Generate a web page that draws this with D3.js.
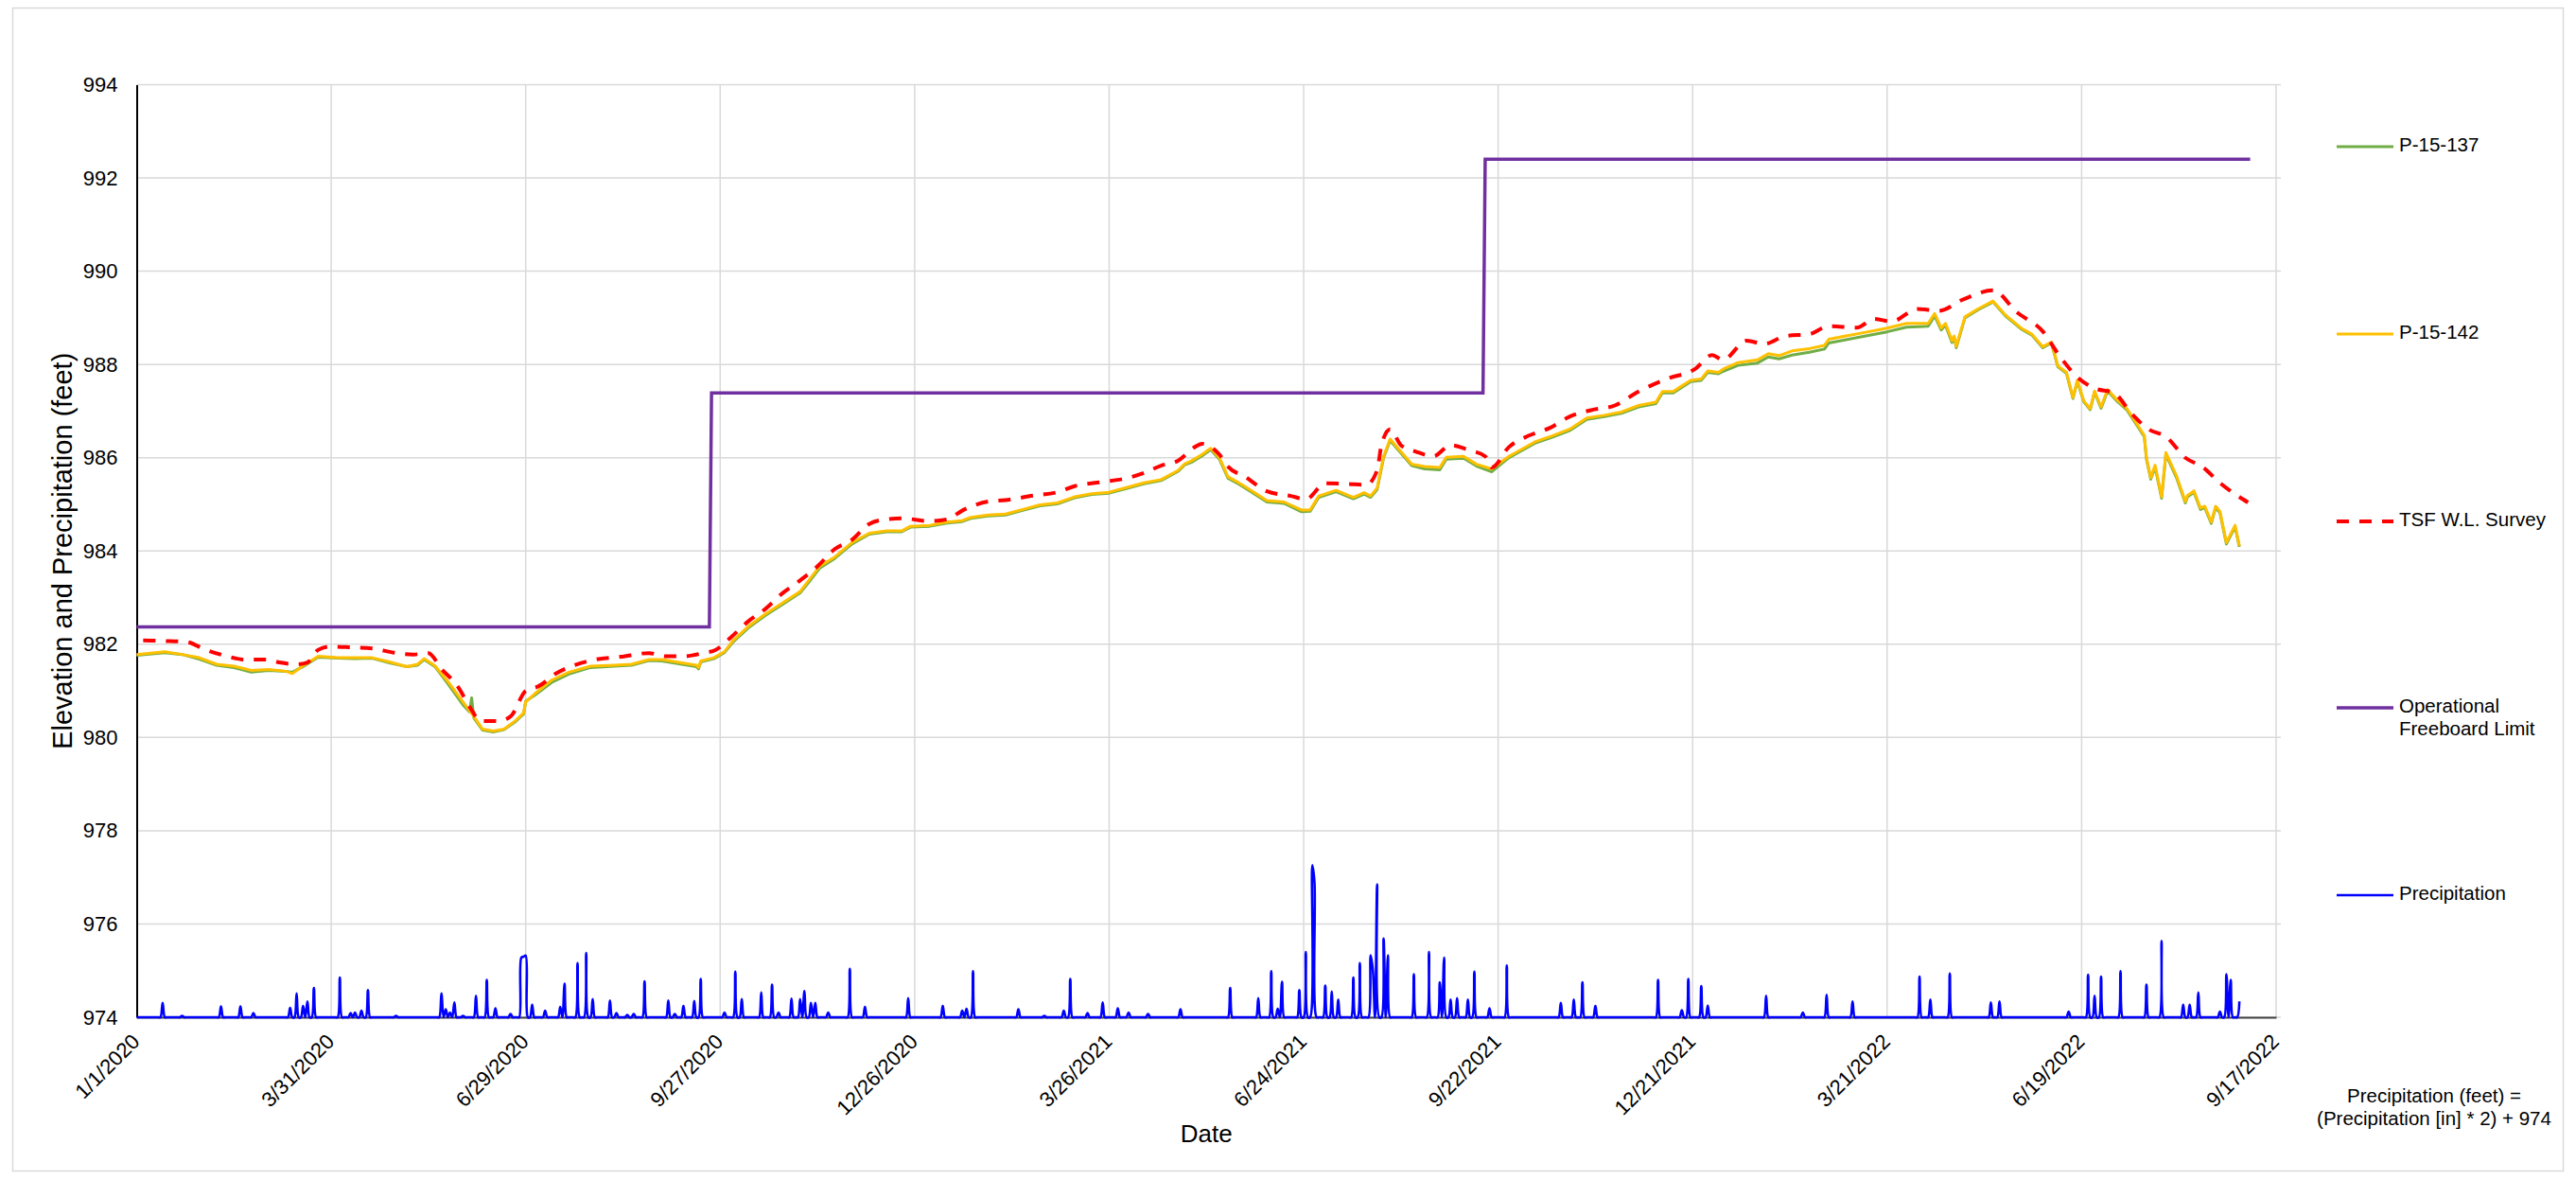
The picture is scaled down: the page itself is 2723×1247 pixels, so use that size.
<!DOCTYPE html>
<html>
<head>
<meta charset="utf-8">
<script src="https://cdn.jsdelivr.net/npm/d3@7"></script>
<style>
html,body{margin:0;padding:0;background:#fff;}
svg{display:block;font-family:"Liberation Sans",Arial,sans-serif;}
</style>
</head>
<body>
<svg id="chart" width="2723" height="1247"></svg>
<script>
// ---------------- DATA (days are offsets from 1/1/2020) ----------------
const tickLabels = ["1/1/2020","3/31/2020","6/29/2020","9/27/2020","12/26/2020","3/26/2021","6/24/2021","9/22/2021","12/21/2021","3/21/2022","6/19/2022","9/17/2022"];
const yTicks = [974,976,978,980,982,984,986,988,990,992,994];

const p142Day = [0,13,21,29,37,45,53,61,69,72,77,84,93,101,109,117,125,130,133,138,144,151,156,160,165,170,175,179,180,184,192,200,210,221,229,237,
243,251,259,260,261,267,272,276,283,291,299,307,311,316,323,331,339,347,354,358,367,375,382,386,394,402,410,418,426,434,442,450,458,466,474,482,485,
488,493,496,497,501,505,509,515,523,531,539,543,547,555,563,568,571,574,577,580,585,590,596,603,606,614,620,627,635,647,655,663,671,679,687,695,703,706,711,719,724,727,732,
734,741,750,755,760,766,774,781,783,791,799,810,819,829,832,835,837,840,841,842,846,852,859,865,872,877,882,886,889,893,896,898,901,904,906,909,912,916,921,929,930,932,934,937,939,944,948,949,952,955,957,960,962,964,967,971,973];
const p142Val = [981.78,981.84,981.78,981.71,981.57,981.53,981.44,981.46,981.42,981.37,981.54,981.74,981.71,981.71,981.71,981.62,981.52,981.57,981.69,981.54,981.2,980.76,980.45,980.18,980.14,980.18,980.35,980.52,980.76,980.93,981.23,981.40,981.53,981.55,981.57,981.67,
981.67,981.61,981.55,981.5,981.64,981.71,981.84,982.08,982.38,982.65,982.89,983.13,983.37,983.67,983.87,984.18,984.38,984.43,984.43,984.53,984.55,984.62,984.65,984.72,984.77,984.79,984.89,984.99,985.03,985.16,985.23,985.26,985.36,985.46,985.53,985.73,985.87,
985.93,986.07,986.17,986.20,986.0,985.59,985.49,985.32,985.08,985.05,984.88,984.88,985.18,985.30,985.15,985.25,985.18,985.35,986.03,986.40,986.13,985.86,985.81,985.79,986.01,986.03,985.86,985.76,986.03,986.34,986.47,986.61,986.85,986.91,986.98,987.12,987.19,987.42,987.42,987.66,987.69,987.86,987.83,
987.90,988.04,988.10,988.23,988.19,988.29,988.34,988.41,988.54,988.61,988.68,988.78,988.88,988.88,989.09,988.78,988.88,988.51,988.61,988.39,989.02,989.19,989.36,989.05,988.78,988.65,988.38,988.48,987.97,987.83,987.29,987.66,987.22,987.05,987.43,987.09,987.46,987.26,987.05,986.48,986.0,985.57,985.84,985.16,986.11,985.60,985.06,985.19,985.29,984.92,984.96,984.62,984.96,984.85,984.18,984.55,984.11];

const p137Day = [0,13,21,29,37,45,53,61,69,72,77,84,93,101,109,117,125,130,133,138,144,151,154,155,156,160,165,170,175,179,180,184,192,200,210,221,229,237,
243,251,259,260,261,267,272,276,283,291,299,307,311,316,323,331,339,347,354,358,367,375,382,386,394,402,410,418,426,434,442,450,458,466,474,482,485,
488,493,496,497,501,505,509,515,523,531,539,543,547,555,563,568,571,574,577,580,585,590,596,603,606,614,620,627,635,647,655,663,671,679,687,695,703,706,711,719,724,727,732,
734,741,750,755,760,766,774,781,783,791,799,810,819,829,832,835,837,840,841,842,846,852,859,865,872,877,882,886,889,893,896,898,901,904,906,909,912,916,921,929,930,932,934,937,939,944,948,949,952,955,957,960,962,964,967,971,973];
const p137Val = [981.76,981.82,981.78,981.68,981.55,981.50,981.40,981.44,981.42,981.40,981.52,981.72,981.70,981.69,981.70,981.60,981.52,981.55,981.67,981.52,981.15,980.70,980.55,980.85,980.42,980.16,980.12,980.17,980.33,980.50,980.78,980.90,981.18,981.36,981.50,981.53,981.55,981.65,
981.64,981.58,981.52,981.47,981.62,981.69,981.82,982.05,982.35,982.62,982.86,983.10,983.33,983.63,983.84,984.15,984.36,984.41,984.41,984.51,984.53,984.60,984.63,984.70,984.75,984.77,984.87,984.97,985.01,985.14,985.21,985.24,985.34,985.44,985.51,985.71,985.85,
985.90,986.04,986.14,986.17,985.97,985.56,985.46,985.29,985.05,985.02,984.84,984.85,985.15,985.27,985.12,985.22,985.15,985.32,986.00,986.37,986.10,985.83,985.76,985.74,985.97,985.99,985.82,985.70,986.00,986.31,986.44,986.58,986.82,986.88,986.95,987.09,987.16,987.39,987.39,987.63,987.66,987.83,987.80,
987.85,987.98,988.03,988.16,988.12,988.20,988.26,988.33,988.46,988.53,988.60,988.70,988.80,988.82,989.04,988.74,988.84,988.47,988.58,988.36,989.00,989.17,989.34,989.03,988.76,988.63,988.36,988.46,987.95,987.81,987.27,987.64,987.20,987.03,987.41,987.06,987.43,987.23,987.02,986.45,985.97,985.54,985.80,985.13,986.07,985.56,985.03,985.16,985.26,984.89,984.93,984.59,984.93,984.82,984.15,984.52,984.09];

const tsfDay = [3,13,23,32,42,50,60,66,74,79,84,90,100,109,119,128,135,141,148,155,159,167,173,180,186,194,202,211,224,237,245,
253,262,268,275,283,291,299,307,315,323,331,339,347,354,367,375,383,394,402,415,426,434,447,458,466,474,482,490,
493,497,501,505,513,523,534,541,550,560,569,574,576,580,585,592,600,608,616,624,627,635,644,654,663,673,684,695,708,721,729,734,
745,753,763,774,783,796,804,812,824,834,845,859,870,882,890,898,906,915,923,931,939,948,956,964,977];
const tsfVal = [982.08,982.07,982.05,981.88,981.74,981.67,981.67,981.61,981.57,981.61,981.88,981.95,981.93,981.91,981.82,981.78,981.81,981.47,981.13,980.59,980.35,980.35,980.45,981.0,981.1,981.37,981.54,981.66,981.73,981.81,981.74,
981.74,981.81,981.88,982.15,982.49,982.76,983.1,983.37,983.67,984.04,984.24,984.58,984.68,984.70,984.64,984.68,984.89,985.06,985.09,985.19,985.26,985.39,985.48,985.56,985.67,985.83,985.94,986.24,
986.30,986.23,986.07,985.81,985.59,985.28,985.18,985.11,985.45,985.44,985.42,985.73,986.27,986.61,986.27,986.13,986.03,986.27,986.17,986.03,985.79,986.23,986.47,986.64,986.88,987.02,987.12,987.42,987.69,987.90,988.20,988.10,
988.51,988.44,988.61,988.65,988.82,988.79,988.98,988.92,989.19,989.15,989.39,989.59,989.12,988.71,988.17,987.73,987.49,987.39,986.95,986.61,986.45,986.0,985.80,985.46,985.04];

const limitDay = [0,265,266,623,624,978];
const limitVal = [982.37,982.37,987.39,987.39,992.40,992.40];

// Precipitation, plotted as (inches * 2) + 974; baseline 974 on days without rain
const rainDay = [12,21,39,48,54,71,74,77,79,82,94,99,101,104,107,120,141,143,145,147,151,157,162,166,173,178,179,180,183,189,196,198,204,208,211,219,222,227,230,235,246,249,253,258,261,272,277,280,289,294,297,303,307,309,312,314,320,330,337,357,373,382,384,387,408,420,429,432,440,447,454,459,468,483,
506,519,525,528,530,538,541,544,545,550,553,556,563,566,571,572,574,577,579,591,598,603,605,608,611,616,619,626,634,659,665,669,675,704,715,718,724,727,754,771,782,794,825,830,839,858,862,894,903,906,909,918,930,937,947,950,954,964,967,969,973];
const rainVal = [974.31,974.03,974.23,974.23,974.09,974.20,974.51,974.24,974.34,974.63,974.85,974.09,974.10,974.14,974.58,974.03,974.51,974.17,974.10,974.32,974.03,974.46,974.80,974.19,974.07,975.28,975.30,975.32,974.27,974.14,974.22,974.72,975.16,975.38,974.39,974.36,974.09,974.05,974.07,974.77,974.36,974.07,974.24,974.35,974.82,974.10,974.98,974.39,974.53,974.70,974.10,974.40,974.39,974.56,974.31,974.31,974.10,975.04,974.22,974.41,974.24,974.14,974.18,974.99,974.17,974.03,974.14,974.82,974.09,974.32,974.19,974.10,974.07,974.17,
974.63,974.41,974.99,974.18,974.76,974.58,975.40,977.26,976.90,974.68,974.55,974.38,974.85,975.16,975.33,975.02,976.85,975.69,975.33,974.92,975.40,974.75,975.28,974.38,974.41,974.38,974.98,974.19,975.11,974.31,974.38,974.75,974.24,974.80,974.15,974.82,974.67,974.25,974.46,974.10,974.48,974.34,974.87,974.38,974.94,974.32,974.34,974.12,974.91,974.46,974.87,974.99,974.70,975.64,974.27,974.27,974.53,974.12,974.92,974.80,974.34];
const rainLastDay = 973;

// ---------------- DRAWING ----------------
const svg = d3.select("#chart");
const L = 144.5, R = 2406, T = 89.5, B = 1075;
const base = Date.UTC(2020,0,1);
const toDate = d => d3.utcDay.offset(new Date(base), d);
const parseTick = d3.utcParse("%m/%d/%Y");
const tickDates = tickLabels.map(parseTick);

const x = d3.scaleUtc().domain([tickDates[0], tickDates[tickDates.length-1]]).range([L, R]);
const y = d3.scaleLinear().domain([974, 994]).range([B, T]);

// outer frame
svg.append("rect").attr("x",13.5).attr("y",8.5).attr("width",2696).attr("height",1229)
  .attr("fill","#fff").attr("stroke","#d9d9d9").attr("stroke-width",1.5);

// gridlines
const grid = svg.append("g");
grid.selectAll("line.h").data(yTicks).join("line")
  .attr("x1",L).attr("x2",R+5).attr("y1",d=>y(d)).attr("y2",d=>y(d))
  .attr("stroke","#d9d9d9").attr("stroke-width",1.5);
grid.selectAll("line.v").data(tickDates.slice(1)).join("line")
  .attr("x1",d=>x(d)).attr("x2",d=>x(d)).attr("y1",T).attr("y2",B)
  .attr("stroke","#d9d9d9").attr("stroke-width",1.5);

// axes
const yAxis = svg.append("g").attr("transform",`translate(${L},0)`)
  .call(d3.axisLeft(y).tickValues(yTicks).tickSize(0).tickPadding(20).tickFormat(d3.format("d")));
yAxis.select(".domain").attr("stroke","#000").attr("stroke-width",2);
yAxis.selectAll("text").attr("font-size",22).attr("fill","#000").attr("font-family","Liberation Sans, Arial, sans-serif");

const xAxis = svg.append("g").attr("transform",`translate(0,${B})`)
  .call(d3.axisBottom(x).tickValues(tickDates).tickSize(0).tickFormat((d,i)=>tickLabels[i]));
xAxis.select(".domain").attr("stroke","#404040").attr("stroke-width",2);
xAxis.selectAll("text")
  .attr("font-size",22).attr("fill","#000").attr("font-family","Liberation Sans, Arial, sans-serif")
  .attr("text-anchor","end").attr("dy",null).attr("y",0)
  .attr("transform","translate(4,27) rotate(-45)");

// line generator helper
const mk = (days, vals) => days.map((d,i)=>({date:toDate(d), v:vals[i]}));
const lineGen = d3.line().x(d=>x(d.date)).y(d=>y(d.v));
const plot = svg.append("g");

// precipitation: daily series
const rainMap = new Map(rainDay.map((d,i)=>[d, rainVal[i]]));
const rainSeries = d3.range(0, rainLastDay+1).map(d=>({date:toDate(d), v: rainMap.has(d) ? rainMap.get(d) : 974}));
plot.append("path").datum(rainSeries)
  .attr("d", d3.line().x(d=>x(d.date)).y(d=>y(d.v)).curve(d3.curveCatmullRom.alpha(0.5)))
  .attr("fill","none").attr("stroke","#0000ff").attr("stroke-width",2.6).attr("stroke-linejoin","round");

plot.append("path").datum(mk(limitDay, limitVal)).attr("d", lineGen)
  .attr("fill","none").attr("stroke","#7030a0").attr("stroke-width",3.5);

plot.append("path").datum(mk(p137Day, p137Val)).attr("d", lineGen)
  .attr("fill","none").attr("stroke","#70ad47").attr("stroke-width",3).attr("stroke-linejoin","round");
plot.append("path").datum(mk(p142Day, p142Val)).attr("d", lineGen)
  .attr("fill","none").attr("stroke","#ffc000").attr("stroke-width",3).attr("stroke-linejoin","round");
plot.append("path").datum(mk(tsfDay, tsfVal)).attr("d", d3.line().x(d=>x(d.date)).y(d=>y(d.v)).curve(d3.curveMonotoneX))
  .attr("fill","none").attr("stroke","#ff0000").attr("stroke-width",4).attr("stroke-dasharray","13,11");

// axis titles
svg.append("text").attr("transform",`translate(68,${(T+B)/2}) rotate(-90)`)
  .attr("text-anchor","middle").attr("dominant-baseline","middle")
  .attr("font-size",29).text("Elevation and Precipitation (feet)");
svg.append("text").attr("x",(L+R)/2).attr("y",1200).attr("text-anchor","middle").attr("dominant-baseline","middle")
  .attr("font-size",26).text("Date");

// legend
const legendItems = [
  {name:["P-15-137"], color:"#70ad47", dash:null, w:3, y:155},
  {name:["P-15-142"], color:"#ffc000", dash:null, w:3, y:353},
  {name:["TSF W.L. Survey"], color:"#ff0000", dash:"13,11", w:4, y:551},
  {name:["Operational","Freeboard Limit"], color:"#7030a0", dash:null, w:3.5, y:748},
  {name:["Precipitation"], color:"#0000ff", dash:null, w:2.6, y:946}
];
const lg = svg.append("g");
legendItems.forEach(it=>{
  lg.append("line").attr("x1",2470).attr("x2",2530).attr("y1",it.y).attr("y2",it.y)
    .attr("stroke",it.color).attr("stroke-width",it.w).attr("stroke-dasharray",it.dash);
  const t = lg.append("text").attr("x",2536).attr("y",it.y).attr("font-size",20.5).attr("dominant-baseline","middle");
  it.name.forEach((s,i)=>t.append("tspan").attr("x",2536).attr("dy",i===0?0:24).text(s));
});

// footnote
const fn = svg.append("text").attr("x",2573).attr("y",1160).attr("text-anchor","middle").attr("font-size",20.5).attr("dominant-baseline","middle");
fn.append("tspan").attr("x",2573).text("Precipitation (feet) =");
fn.append("tspan").attr("x",2573).attr("dy",24).text("(Precipitation [in] * 2) + 974");
</script>
</body>
</html>
